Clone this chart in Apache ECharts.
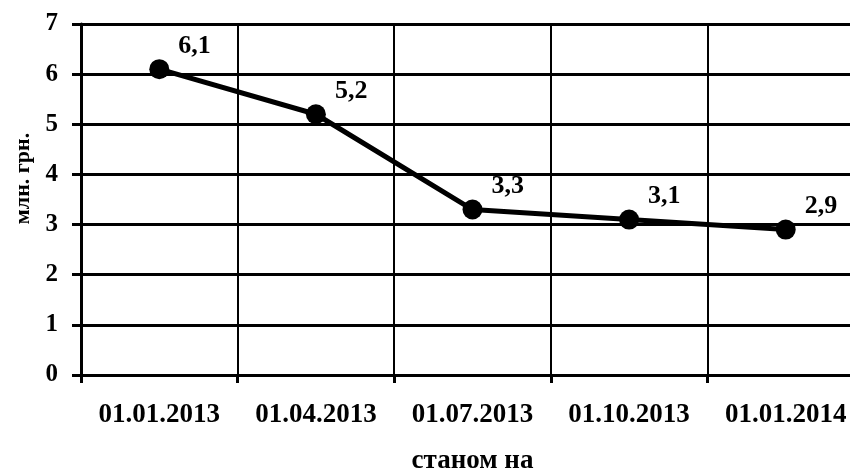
<!DOCTYPE html>
<html>
<head>
<meta charset="utf-8">
<script src="https://cdn.jsdelivr.net/npm/echarts@6/dist/echarts.min.js"></script>
<style>
  html, body { margin: 0; padding: 0; background: #fff; }
  #chart { width: 850px; height: 471px; }
</style>
</head>
<body>
<div id="chart"></div>
<script>
// дані
const dates = ["01.01.2013", "01.04.2013", "01.07.2013", "01.10.2013", "01.01.2014"];
const values = [6.1, 5.2, 3.3, 3.1, 2.9];

const font = "'Liberation Serif', 'DejaVu Serif', serif";

const chart = echarts.init(document.getElementById("chart"), null, { renderer: "canvas" });

chart.setOption({
  animation: false,
  textStyle: { fontFamily: font, color: "#000" },
  grid: { left: 81, top: 24, bottom: 96, width: 783, containLabel: false, outerBoundsMode: "none" },
  xAxis: {
    type: "category",
    data: dates,
    boundaryGap: true,
    name: "станом на",
    nameLocation: "middle",
    nameGap: 73,
    nameTextStyle: { fontFamily: font, fontWeight: "bold", fontSize: 27, color: "#000" },
    axisLine: { lineStyle: { color: "#000", width: 3 } },
    axisTick: { show: true, interval: 0, length: 8, lineStyle: { color: "#000", width: 3 } },
    axisLabel: { interval: 0, hideOverlap: false, fontFamily: font, fontWeight: "bold", fontSize: 27, color: "#000", margin: 27 },
    splitLine: { show: true, interval: 0, lineStyle: { color: "#000", width: 2 } }
  },
  yAxis: {
    type: "value",
    min: 0,
    max: 7,
    interval: 1,
    name: "млн. грн.",
    nameLocation: "middle",
    nameGap: 46,
    nameRotate: 90,
    nameTextStyle: { fontFamily: font, fontWeight: "bold", fontSize: 22, color: "#000", padding: [0, 0, 0, 42] },
    axisLine: { show: true, lineStyle: { color: "#000", width: 3 } },
    axisTick: { show: true, length: 9, lineStyle: { color: "#000", width: 3 } },
    axisLabel: { fontFamily: font, fontWeight: "bold", fontSize: 25, color: "#000", margin: 23 },
    splitLine: { show: true, lineStyle: { color: "#000", width: 3 } }
  },
  series: [{
    type: "line",
    data: values,
    symbol: "circle",
    symbolSize: 20,
    itemStyle: { color: "#000" },
    lineStyle: { color: "#000", width: 5 },
    label: {
      show: true,
      position: "right",
      offset: [4, -23],
      fontFamily: font,
      fontWeight: "bold",
      fontSize: 26,
      color: "#000",
      formatter: p => String(p.value).replace(".", ",")
    }
  }]
});
</script>
</body>
</html>
